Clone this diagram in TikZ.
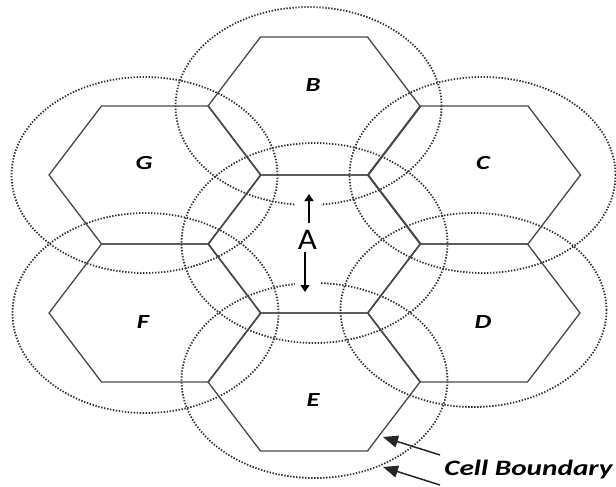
\documentclass[tikz,border=0pt]{standalone}
\usepackage{fontspec}
\setmainfont{Carlito}
\usepackage{graphicx}
\usetikzlibrary{arrows.meta}
\begin{document}
\begin{tikzpicture}[x=1pt,y=-1pt,
  hexline/.style={draw=black!72,line width=1.3pt,line join=miter},
  cellcirc/.style={draw=black!80,line width=1.8pt,dash pattern=on 1.4pt off 1.6pt},
  lab/.style={font=\fontsize{20}{24}\selectfont\bfseries\itshape,text=black,inner sep=0pt},
  cblab/.style={font=\fontsize{22}{26}\selectfont\bfseries\itshape,text=black,inner sep=0pt},
  alab/.style={font=\fontsize{30}{34}\selectfont,text=black,inner sep=0pt},
  smallptr/.style={draw=black,line width=1.3pt,-{Triangle[length=7pt,width=9pt]}},
  bigptr/.style={draw=black!85,line width=1.5pt,-{Triangle[length=15pt,width=12pt]}}]
\useasboundingbox (0,0) rectangle (616,487);
% coverage circles (stretched horizontally)
\foreach \cx/\cy/\ry in {314.5/243/100, 308.5/106/99, 482.5/175/98, 473.5/310/97, 314.5/380.5/97.5, 145.5/313/100, 144.5/175/98}
  \draw[cellcirc] (\cx,\cy) ellipse [x radius=133pt, y radius=\ry pt];
% hexagonal cells
\foreach \x/\y in {314/244, 314/106, 474.5/175, 474/313, 314/382, 155/313, 155/175}
  \draw[hexline] ({\x-106},\y) -- ({\x-53.5},{\y-69}) -- ({\x+53.5},{\y-69})
     -- ({\x+106},\y) -- ({\x+53.5},{\y+69}) -- ({\x-53.5},{\y+69}) -- cycle;
% cell labels
\node[lab] (lB) at (313,85.5) {\scalebox{1.33}[1]{B}};
\node[lab] (lG) at (144,163.5) {\scalebox{1.33}[1]{G}};
\node[lab] (lC) at (483,163.5) {\scalebox{1.33}[1]{C}};
\node[lab] (lD) at (483,322) {\scalebox{1.33}[1]{D}};
\node[lab] (lE) at (313,400) {\scalebox{1.33}[1]{E}};
\node[lab] (lF) at (143,322) {\scalebox{1.33}[1]{F}};
% central label box with distance arrows
\node[fill=white,minimum width=26pt,minimum height=104pt,inner sep=0pt] (abox) at (308,244) {};
\node[alab] (lA) at (307.5,240) {\scalebox{1.1}[1]{A}};
\coordinate (aup0) at (309,223);
\coordinate (aup1) at (309,194);
\coordinate (adn0) at (305,252);
\coordinate (adn1) at (305,292);
\draw[smallptr] (aup0) -- (aup1);
\draw[smallptr] (adn0) -- (adn1);
% Cell Boundary annotation
\node[cblab] (cb) at (528.5,470) {\scalebox{1.33}[1]{Cell Boundary}};
\coordinate (cbs1) at (440,455);
\coordinate (cbs2) at (440,485);
\coordinate (cbt1) at (383,437);
\coordinate (cbt2) at (383,467);
\draw[bigptr] (cbs1) -- (cbt1);
\draw[bigptr] (cbs2) -- (cbt2);
\end{tikzpicture}
\end{document}
